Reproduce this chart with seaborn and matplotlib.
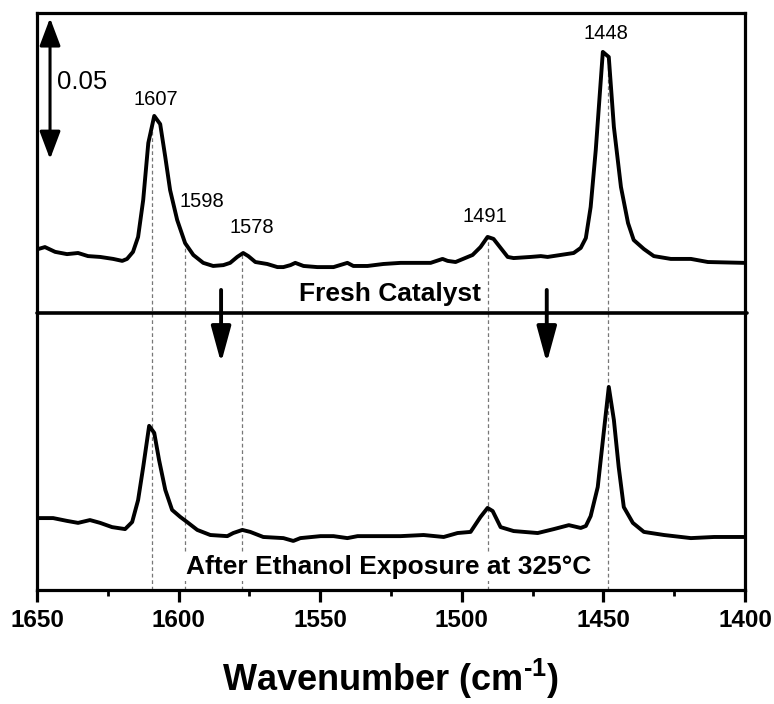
import numpy as np
import pandas as pd
import matplotlib
matplotlib.use("Agg")
import matplotlib.pyplot as plt
import seaborn as sns

# ---------------- data ----------------
wn_fresh = [1649.6, 1647.2, 1643.6, 1639.4, 1635.5, 1632.0, 1627.7, 1623.1, 1619.9, 1618.2,
            1616.1, 1614.3, 1612.5, 1610.7, 1608.6, 1606.5, 1604.7, 1603.0, 1600.5, 1597.7,
            1594.8, 1591.3, 1587.8, 1584.2, 1581.8, 1579.3, 1577.2, 1575.4, 1572.9, 1568.7,
            1565.1, 1563.0, 1560.5, 1558.8, 1555.9, 1551.0, 1545.3, 1540.4, 1538.3, 1533.3,
            1527.7, 1521.6, 1517.0, 1511.0, 1506.8, 1505.0, 1502.2, 1496.2, 1493.4, 1490.9,
            1488.8, 1486.3, 1483.8, 1481.7, 1475.7, 1472.1, 1469.7, 1465.1, 1460.5, 1458.0,
            1456.2, 1454.5, 1452.7, 1450.2, 1448.1, 1446.3, 1443.8, 1441.3, 1439.3, 1435.7,
            1432.2, 1426.2, 1419.1, 1413.1, 1400.4]
abs_fresh = [0.1209, 0.1216, 0.1199, 0.1191, 0.1195, 0.1184, 0.1181, 0.1174, 0.1167, 0.1174,
             0.1199, 0.1252, 0.1383, 0.1585, 0.1681, 0.1652, 0.1535, 0.1418, 0.1312, 0.1230,
             0.1188, 0.1160, 0.1149, 0.1152, 0.1160, 0.1181, 0.1195, 0.1184, 0.1163, 0.1156,
             0.1145, 0.1145, 0.1152, 0.1160, 0.1149, 0.1145, 0.1145, 0.1160, 0.1149, 0.1149,
             0.1156, 0.1160, 0.1160, 0.1160, 0.1174, 0.1167, 0.1163, 0.1188, 0.1216, 0.1252,
             0.1245, 0.1213, 0.1181, 0.1177, 0.1181, 0.1184, 0.1181, 0.1188, 0.1195, 0.1213,
             0.1248, 0.1358, 0.1560, 0.1908, 0.1890, 0.1642, 0.1429, 0.1301, 0.1241, 0.1209,
             0.1184, 0.1174, 0.1174, 0.1163, 0.1160]

wn_ethanol = [1649.6, 1644.3, 1639.4, 1635.5, 1631.3, 1627.7, 1623.5, 1618.9, 1616.4, 1614.3,
              1612.5, 1610.4, 1608.6, 1606.9, 1604.7, 1602.3, 1599.4, 1597.0, 1593.4, 1588.8,
              1582.8, 1580.7, 1577.5, 1574.7, 1570.1, 1563.0, 1559.5, 1557.0, 1549.9, 1545.3,
              1540.4, 1536.8, 1531.2, 1521.6, 1513.5, 1506.4, 1501.5, 1496.9, 1493.4, 1490.9,
              1489.1, 1486.3, 1481.7, 1473.2, 1467.5, 1462.2, 1458.0, 1456.2, 1454.5, 1452.0,
              1449.9, 1448.1, 1446.3, 1444.6, 1442.8, 1439.6, 1435.7, 1428.6, 1419.1, 1410.9,
              1400.4]
abs_ethanol = [0.0255, 0.0255, 0.0245, 0.0238, 0.0248, 0.0238, 0.0223, 0.0216, 0.0241, 0.0319,
               0.0436, 0.0582, 0.0557, 0.0461, 0.0355, 0.0284, 0.0259, 0.0241, 0.0213, 0.0195,
               0.0191, 0.0202, 0.0213, 0.0206, 0.0188, 0.0184, 0.0174, 0.0184, 0.0191, 0.0191,
               0.0184, 0.0191, 0.0191, 0.0191, 0.0195, 0.0188, 0.0202, 0.0206, 0.0259, 0.0291,
               0.0280, 0.0223, 0.0209, 0.0202, 0.0216, 0.0230, 0.0220, 0.0227, 0.0262, 0.0365,
               0.0557, 0.0720, 0.0603, 0.0436, 0.0294, 0.0238, 0.0206, 0.0195, 0.0184, 0.0188,
               0.0188]

peak_positions = [1609.3, 1597.7, 1577.5, 1490.9, 1448.4]
peak_labels = ["1607", "1598", "1578", "1491", "1448"]
xtick_values = [1650, 1600, 1550, 1500, 1450, 1400]
scale_bar_value = 0.05
divider_level = 0.0982
shift_arrow_wn = [1585.0, 1470.0]
fresh_label = "Fresh Catalyst"
ethanol_label = "After Ethanol Exposure at 325°C"

# ---------------- style ----------------
sns.set_style("white")
plt.rcParams['font.family'] = ['Liberation Sans', 'DejaVu Sans']
plt.rcParams['mathtext.fontset'] = 'custom'
plt.rcParams['mathtext.rm'] = 'Liberation Sans:bold'
plt.rcParams['mathtext.bf'] = 'Liberation Sans:bold'
plt.rcParams['axes.unicode_minus'] = False
plt.rcParams['text.color'] = 'black'
plt.rcParams['axes.labelcolor'] = 'black'
plt.rcParams['xtick.color'] = 'black'
plt.rcParams['ytick.color'] = 'black'

fig = plt.figure(figsize=(7.74, 7.04), dpi=100)
ax = fig.add_axes([37 / 774, 1 - 590 / 704, (745 - 37) / 774, (590 - 13) / 704])

df_fresh = pd.DataFrame({"wn": wn_fresh, "A": abs_fresh})
df_eth = pd.DataFrame({"wn": wn_ethanol, "A": abs_ethanol})
sns.lineplot(data=df_fresh, x="wn", y="A", color="black", lw=2.8, sort=False,
             estimator=None, ax=ax, zorder=4)
sns.lineplot(data=df_eth, x="wn", y="A", color="black", lw=2.8, sort=False,
             estimator=None, ax=ax, zorder=4)

ax.set_xlim(1650, 1400)
ax.set_ylim(0, 0.2046)

# dashed guide lines from the fresh spectrum down to the axis
fx = np.array(wn_fresh)[::-1]
fy = np.array(abs_fresh)[::-1]
tops = np.interp(peak_positions, fx, fy)
ax.vlines(peak_positions, 0, tops, colors="#777777", linestyles=(0, (3, 2.2)),
          lw=0.9, zorder=2)

# peak labels
label_offsets = [(1607.9, 0.1738), (1591.7, 0.1379), (1574.3, 0.1284),
                 (1491.9, 0.1323), (1449.2, 0.1975)]
for lab, (lx, ly) in zip(peak_labels, label_offsets):
    ax.text(lx, ly, lab, ha="center", va="center", fontsize=14.5, color="black", zorder=5)

# divider line
ax.axhline(divider_level, xmin=0, xmax=1.003, color="black", lw=2.6, clip_on=False, zorder=3)

# shift arrows
for w in shift_arrow_wn:
    ax.annotate("", xy=(w, 0.0805), xytext=(w, 0.1064),
                arrowprops=dict(arrowstyle="-|>,head_length=1.1,head_width=0.3",
                                mutation_scale=20, lw=2.8, color="black",
                                shrinkA=0, shrinkB=0), zorder=5)

# scale bar
ax.annotate("", xy=(1645.4, 0.1528 + scale_bar_value), xytext=(1645.4, 0.1528),
            arrowprops=dict(arrowstyle="<|-|>,head_length=0.85,head_width=0.32",
                            mutation_scale=20, lw=2.2, color="black",
                            shrinkA=0, shrinkB=0), zorder=5)
ax.text(1642.9, 0.1801, "0.05", ha="left", va="center", fontsize=18.5, color="black")

# spectrum titles
ax.text(1525.5, 0.1051, fresh_label, ha="center", va="center", fontsize=19,
        fontweight="bold", color="black", zorder=5)
ax.text(1525.8, 0.0083, ethanol_label, ha="center", va="center", fontsize=19,
        fontweight="bold", color="black", zorder=5,
        bbox=dict(facecolor="white", edgecolor="none", pad=1.5))

# axes styling
for s in ax.spines.values():
    s.set_linewidth(2.3)
    s.set_color("black")
ax.set_yticks([])
ax.set_xticks(xtick_values)
ax.set_xticks([1625, 1575, 1525, 1475, 1425], minor=True)
ax.set_xticklabels([str(v) for v in xtick_values], fontsize=17.5, fontweight="bold",
                   color="black")
ax.tick_params(axis="x", which="major", direction="out", length=8.5, width=2.3, pad=5,
               bottom=True, top=False, colors="black")
ax.tick_params(axis="x", which="minor", direction="out", length=4.3, width=2.0,
               bottom=True, top=False, colors="black")
ax.set_ylabel("")
ax.set_xlabel(r"Wavenumber (cm$^{\text{-}\mathbf{1}}$)", fontsize=26, fontweight="bold",
              labelpad=18, color="black")

fig.savefig("out.png", dpi=100)
